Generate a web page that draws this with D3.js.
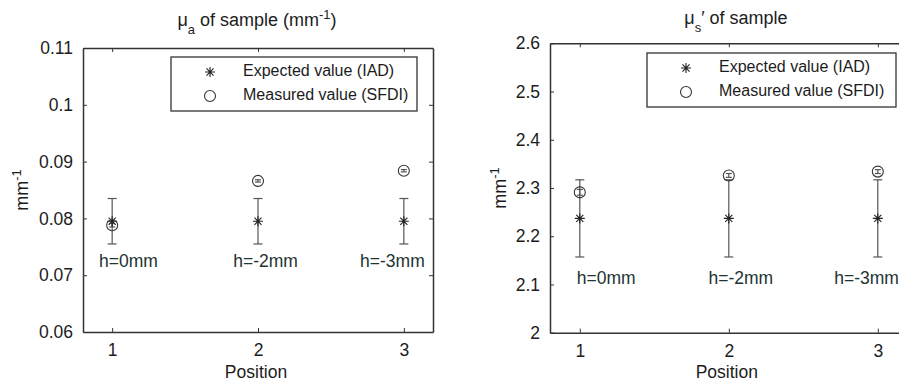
<!DOCTYPE html>
<html>
<head>
<meta charset="utf-8">
<script src="https://cdn.jsdelivr.net/npm/d3@7"></script>
<style>
  html, body { margin: 0; padding: 0; background: #fff; }
  svg { display: block; font-family: "Liberation Sans", Arial, sans-serif; }
</style>
</head>
<body>
<svg id="chart" width="899" height="383"></svg>
<script>
// Positions along the sample and their height annotations
const positions = [1, 2, 3];
const xTicks = [1, 2, 3];
const heightLabels = ["h=0mm", "h=-2mm", "h=-3mm"];
const legendLabels = ["Expected value (IAD)", "Measured value (SFDI)"];

// Absorption coefficient mu_a (mm^-1)
const muaExpected = [0.0795, 0.0795, 0.0795];
const muaExpectedErr = [0.004, 0.004, 0.004];
const muaMeasured = [0.0788, 0.0866, 0.0884];
const muaMeasuredErr = [0.0003, 0.0002, 0.0002];
const muaTicks = [0.06, 0.07, 0.08, 0.09, 0.1, 0.11];
const muaTickLabels = ["0.06", "0.07", "0.08", "0.09", "0.1", "0.11"];
const muaLabelX = [0.91, 1.83, 2.70];
const muaLabelY = 0.0723;

// Reduced scattering coefficient mu_s' (mm^-1)
const musExpected = [2.237, 2.237, 2.237];
const musExpectedErr = [0.08, 0.08, 0.08];
const musMeasured = [2.291, 2.326, 2.334];
const musMeasuredErr = [0.006, 0.004, 0.004];
const musTicks = [2, 2.1, 2.2, 2.3, 2.4, 2.5, 2.6];
const musTickLabels = ["2", "2.1", "2.2", "2.3", "2.4", "2.5", "2.6"];
const musLabelX = [0.98, 1.864, 2.708];
const musLabelY = 2.111;

const svg = d3.select("#chart");
const ink = "#1c1c1c";
const axisInk = "#333";
const barInk = "#555";

const panels = [
  {
    box: { left: 83, right: 433, top: 48, bottom: 332 },
    yDomain: [0.06, 0.11], yTicks: muaTicks, yTickLabels: muaTickLabels,
    expected: muaExpected, expectedErr: muaExpectedErr,
    measured: muaMeasured, measuredErr: muaMeasuredErr,
    labelX: muaLabelX, labelY: muaLabelY,
    title: [["μ", 0], ["a", -1], [" of sample (mm", 0], ["-1", 1], [")", 0]],
    titleX: 257, titleY: 26,
    ylabelX: 28,
    legend: { left: 171, top: 57, width: 246 }
  },
  {
    box: { left: 550, right: 907.6, top: 43.3, bottom: 332.7 },
    yDomain: [2, 2.6], yTicks: musTicks, yTickLabels: musTickLabels,
    expected: musExpected, expectedErr: musExpectedErr,
    measured: musMeasured, measuredErr: musMeasuredErr,
    labelX: musLabelX, labelY: musLabelY,
    title: [["μ", 0], ["s", -1], ["′ of sample", 0]],
    titleX: 736, titleY: 24,
    ylabelX: 506,
    legend: { left: 647, top: 53, width: 249 }
  }
];

// Asterisk marker: plus + cross
function starPath(s) {
  const d = s * 0.707;
  return `M${-s},0L${s},0M0,${-s}L0,${s}M${-d},${-d}L${d},${d}M${-d},${d}L${d},${-d}`;
}

// Rich text with subscript (-1) / superscript (+1) pieces
function richText(sel, parts, size) {
  parts.forEach(([txt, shift]) => {
    const t = sel.append("tspan").text(txt);
    if (shift !== 0) {
      t.attr("font-size", size * 0.72)
       .attr("baseline-shift", shift > 0 ? "super" : "sub");
    }
  });
}

panels.forEach(p => {
  const b = p.box;
  const x = d3.scaleLinear().domain([0.8, 3.2]).range([b.left, b.right]);
  const y = d3.scaleLinear().domain(p.yDomain).range([b.bottom, b.top]);
  const g = svg.append("g");

  // Axes with inward ticks on all four sides
  g.append("g").attr("transform", `translate(0,${b.bottom})`)
    .call(d3.axisBottom(x).tickValues(xTicks).tickSizeInner(-4).tickSizeOuter(0).tickPadding(12).tickFormat(d3.format("d")));
  g.append("g").attr("transform", `translate(0,${b.top})`)
    .call(d3.axisTop(x).tickValues(xTicks).tickSizeInner(-4).tickSizeOuter(0).tickFormat(""));
  g.append("g").attr("transform", `translate(${b.left},0)`)
    .call(d3.axisLeft(y).tickValues(p.yTicks).tickSizeInner(-4).tickSizeOuter(0).tickPadding(10)
      .tickFormat((d, i) => p.yTickLabels[i]));
  g.append("g").attr("transform", `translate(${b.right},0)`)
    .call(d3.axisRight(y).tickValues(p.yTicks).tickSizeInner(-4).tickSizeOuter(0).tickFormat(""));
  g.selectAll(".domain").attr("stroke", axisInk).attr("stroke-width", 1.5);
  g.selectAll(".tick line").attr("stroke", axisInk).attr("stroke-width", 1);
  g.selectAll(".tick text").attr("fill", ink).attr("font-size", 17.5)
    .attr("font-family", "Liberation Sans, Arial, sans-serif");

  // Error bars for expected and measured values
  const bars = g.append("g").attr("stroke", barInk).attr("stroke-width", 1.2).attr("fill", "none");
  const capW = 4.5;
  positions.forEach((pos, i) => {
    const cx = x(pos);
    const lo = y(p.expected[i] - p.expectedErr[i]);
    const hi = y(p.expected[i] + p.expectedErr[i]);
    bars.append("line").attr("x1", cx).attr("x2", cx).attr("y1", lo).attr("y2", hi);
    bars.append("line").attr("x1", cx - capW).attr("x2", cx + capW).attr("y1", lo).attr("y2", lo);
    bars.append("line").attr("x1", cx - capW).attr("x2", cx + capW).attr("y1", hi).attr("y2", hi);
    const mlo = y(p.measured[i] - p.measuredErr[i]);
    const mhi = y(p.measured[i] + p.measuredErr[i]);
    bars.append("line").attr("x1", cx).attr("x2", cx).attr("y1", mlo).attr("y2", mhi);
    bars.append("line").attr("x1", cx - 3).attr("x2", cx + 3).attr("y1", mlo).attr("y2", mlo);
    bars.append("line").attr("x1", cx - 3).attr("x2", cx + 3).attr("y1", mhi).attr("y2", mhi);
  });

  // Expected (asterisk) markers
  g.append("g").selectAll("path").data(positions).join("path")
    .attr("transform", (d, i) => `translate(${x(d)},${y(p.expected[i])})`)
    .attr("d", starPath(5)).attr("stroke", "#222").attr("stroke-width", 1.1).attr("fill", "none");

  // Measured (circle) markers
  g.append("g").selectAll("circle").data(positions).join("circle")
    .attr("cx", d => x(d)).attr("cy", (d, i) => y(p.measured[i]))
    .attr("r", 5.5).attr("fill", "none").attr("stroke", "#333").attr("stroke-width", 1.1);

  // Height annotations
  g.append("g").selectAll("text").data(heightLabels).join("text")
    .attr("x", (d, i) => x(p.labelX[i])).attr("y", y(p.labelY))
    .attr("dominant-baseline", "middle")
    .attr("font-size", 17.5).attr("fill", "#223333").text(d => d);

  // Title
  const t = g.append("text").attr("x", p.titleX).attr("y", p.titleY)
    .attr("text-anchor", "middle").attr("font-size", 18).attr("fill", ink);
  richText(t, p.title, 18);

  // X label
  g.append("text").attr("x", (b.left + b.right) / 2 - 2).attr("y", 378)
    .attr("text-anchor", "middle").attr("font-size", 17.5).attr("fill", ink).text("Position");

  // Y label
  const yl = g.append("text")
    .attr("transform", `translate(${p.ylabelX},${(b.top + b.bottom) / 2})rotate(-90)`)
    .attr("text-anchor", "middle").attr("font-size", 18).attr("fill", ink);
  richText(yl, [["mm", 0], ["-1", 1]], 18);

  // Legend
  const L = p.legend;
  const lg = g.append("g").attr("transform", `translate(${L.left},${L.top})`);
  lg.append("rect").attr("width", L.width).attr("height", 54)
    .attr("fill", "#fff").attr("stroke", axisInk).attr("stroke-width", 1.3);
  lg.append("path").attr("transform", "translate(39,15)").attr("d", starPath(5))
    .attr("stroke", "#222").attr("stroke-width", 1.1).attr("fill", "none");
  lg.append("circle").attr("cx", 39).attr("cy", 39).attr("r", 5.5)
    .attr("fill", "none").attr("stroke", "#333").attr("stroke-width", 1.1);
  lg.selectAll("text.leg").data(legendLabels).join("text").attr("class", "leg")
    .attr("x", 72).attr("y", (d, i) => 15 + i * 24).attr("dominant-baseline", "middle")
    .attr("font-size", 16).attr("fill", ink).text(d => d);
});
</script>
</body>
</html>
